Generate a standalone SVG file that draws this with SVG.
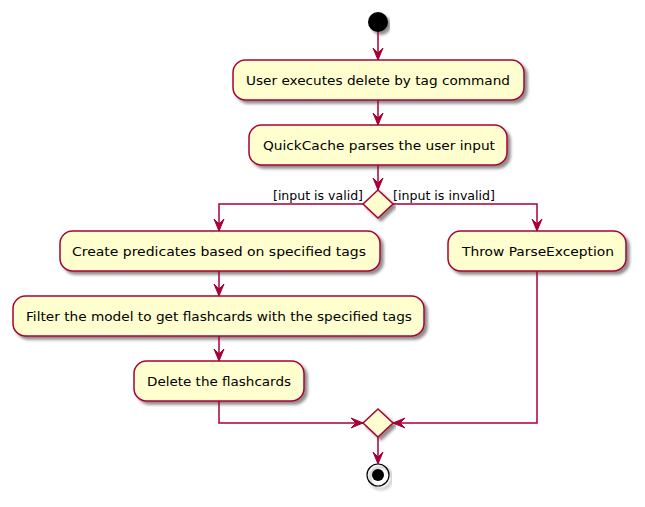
<svg xmlns="http://www.w3.org/2000/svg" width="645" height="507" viewBox="0 0 645 507">
<defs>
<filter id="sh" x="-5%" y="-20%" width="115%" height="160%">
<feGaussianBlur in="SourceAlpha" stdDeviation="1.7" result="b"/>
<feColorMatrix in="b" type="matrix" values="0 0 0 0 0  0 0 0 0 0  0 0 0 0 0  0 0 0 0.45 0" result="c"/>
<feOffset in="c" dx="3" dy="3" result="o"/>
<feMerge><feMergeNode in="o"/><feMergeNode in="SourceGraphic"/></feMerge>
</filter>
</defs>
<style>
.act{fill:#FEFECE;stroke:#A80036;stroke-width:1.5;filter:url(#sh)}
.t{font-family:"DejaVu Sans","Liberation Sans",sans-serif;font-size:13px;fill:#000;text-anchor:middle}
.lb{font-family:"DejaVu Sans","Liberation Sans",sans-serif;font-size:12px;fill:#000}
.ln{fill:none;stroke:#A80036;stroke-width:1.5}
.ah{fill:#A80036;stroke:#A80036;stroke-width:1}
</style>
<g id="start"><circle cx="378" cy="22" r="10" fill="#000" filter="url(#sh)"/></g>
<g id="n1"><rect class="act" x="233" y="60" width="291" height="40" rx="12.5"/><text class="t" x="378" y="85" textLength="264" lengthAdjust="spacingAndGlyphs">User executes delete by tag command</text></g>
<g id="n2"><rect class="act" x="249" y="125" width="258" height="40" rx="12.5"/><text class="t" x="379" y="150" textLength="232" lengthAdjust="spacingAndGlyphs">QuickCache parses the user input</text></g>
<g id="d1"><polygon class="act" points="378,190 393,204 378,218 363,204"/></g>
<g id="n3"><rect class="act" x="60" y="231" width="320" height="40" rx="12.5"/><text class="t" x="219" y="256" textLength="294" lengthAdjust="spacingAndGlyphs">Create predicates based on specified tags</text></g>
<g id="n4"><rect class="act" x="13" y="296" width="411" height="40" rx="12.5"/><text class="t" x="219" y="321" textLength="386" lengthAdjust="spacingAndGlyphs">Filter the model to get flashcards with the specified tags</text></g>
<g id="n5"><rect class="act" x="134" y="361" width="170" height="40" rx="12.5"/><text class="t" x="219" y="386" textLength="144" lengthAdjust="spacingAndGlyphs">Delete the flashcards</text></g>
<g id="n6"><rect class="act" x="448" y="231" width="178" height="40" rx="12.5"/><text class="t" x="538" y="256" textLength="152" lengthAdjust="spacingAndGlyphs">Throw ParseException</text></g>
<g id="d2"><polygon class="act" points="378,409 393,423 378,437 363,423"/></g>
<g id="end"><circle cx="378" cy="475" r="11" fill="none" stroke="#000" stroke-width="1.2" filter="url(#sh)"/><circle cx="378" cy="475" r="6" fill="#000"/></g>
<g id="connectors">
<line class="ln" x1="378" y1="32" x2="378" y2="60"/>
<polygon class="ah" points="373,48 378,60 383,48 378,53"/>
<line class="ln" x1="378" y1="100" x2="378" y2="125"/>
<polygon class="ah" points="373,113 378,125 383,113 378,118"/>
<line class="ln" x1="378" y1="165" x2="378" y2="190"/>
<polygon class="ah" points="373,178 378,190 383,178 378,183"/>
<polyline class="ln" points="363,204 219,204 219,231"/>
<polygon class="ah" points="214,219 219,231 224,219 219,224"/>
<polyline class="ln" points="393,204 537,204 537,231"/>
<polygon class="ah" points="532,219 537,231 542,219 537,224"/>
<line class="ln" x1="219" y1="271" x2="219" y2="296"/>
<polygon class="ah" points="214,284 219,296 224,284 219,289"/>
<line class="ln" x1="219" y1="336" x2="219" y2="361"/>
<polygon class="ah" points="214,349 219,361 224,349 219,354"/>
<polyline class="ln" points="219,401 219,423 363,423"/>
<polygon class="ah" points="351,418 363,423 351,428 356,423"/>
<polyline class="ln" points="537,271 537,423 393,423"/>
<polygon class="ah" points="405,418 393,423 405,428 400,423"/>
<line class="ln" x1="378" y1="437" x2="378" y2="464"/>
<polygon class="ah" points="373,452 378,464 383,452 378,457"/>
<text class="lb" x="363" y="200" text-anchor="end" textLength="90" lengthAdjust="spacingAndGlyphs">[input is valid]</text>
<text class="lb" x="393" y="200" textLength="102" lengthAdjust="spacingAndGlyphs">[input is invalid]</text>
</g>
</svg>
